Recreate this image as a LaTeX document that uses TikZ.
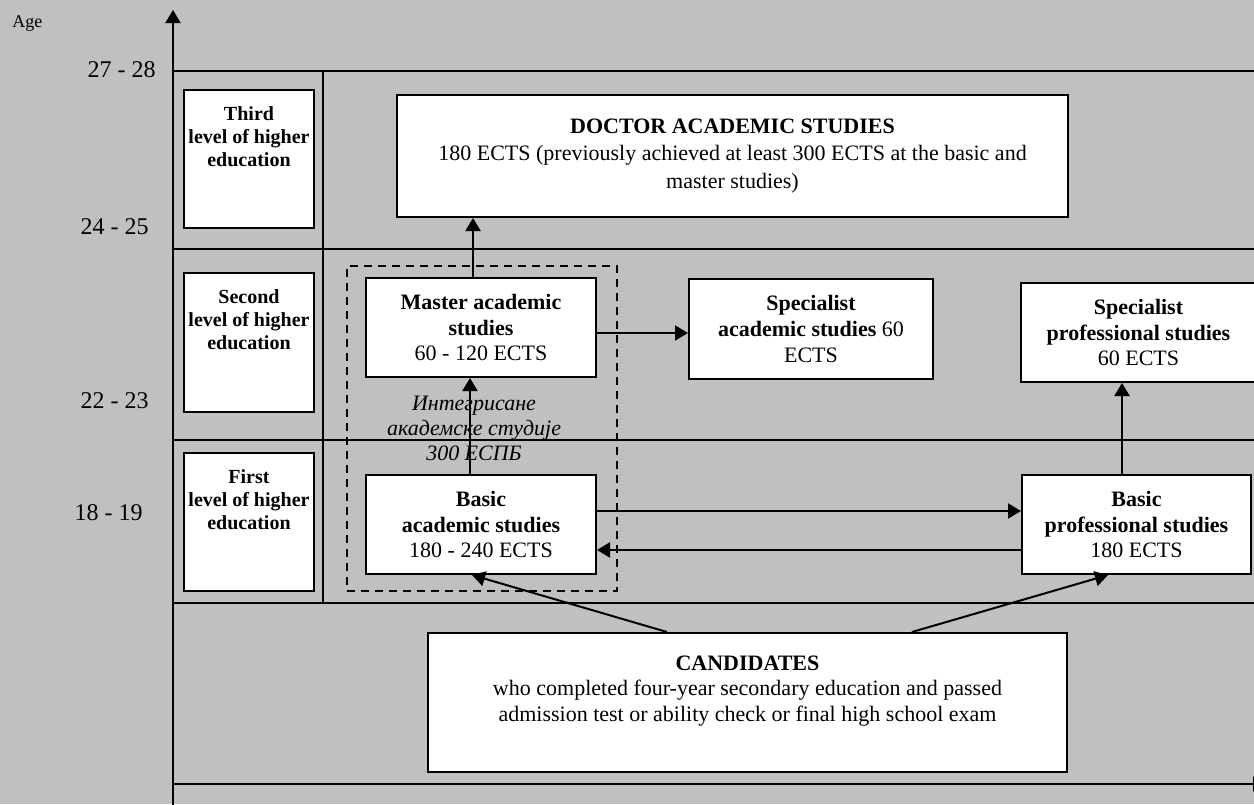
\documentclass[tikz,border=0pt]{standalone}
\usepackage{fontspec}
\setmainfont{Liberation Serif}
\usetikzlibrary{arrows.meta}
\definecolor{bggray}{RGB}{192,192,192}
\begin{document}
\begin{tikzpicture}[x=0.5pt,y=-0.5pt,
  box/.style={draw, line width=1pt, fill=white, inner sep=0pt, anchor=center,
    font=\fontsize{11}{12.8}\selectfont, align=center},
  lvltext/.style={font=\fontsize{10}{11.5}\selectfont\bfseries, align=center, inner sep=0pt, anchor=north},
  agel/.style={font=\fontsize{12}{14}\selectfont, anchor=east, inner sep=0pt},
  arr/.style={line width=1pt, -{Triangle[length=6.5pt,width=7.5pt]}},
  gridline/.style={line width=1pt},
  dashbox/.style={draw, line width=1pt, dash pattern=on 4pt off 3pt, inner sep=0pt}]
\useasboundingbox (0,0) rectangle (1254,804);
\clip (0,0) rectangle (1254,804);
\fill[bggray] (0,0) rectangle (1254,804);

% axes
\coordinate (ybot) at (173,810);
\coordinate (ytop) at (173,10);
\coordinate (xleft) at (173,784);
\coordinate (xright) at (1266,784);
\draw[arr] (ybot) -- (ytop);
\draw[arr] (xleft) -- (xright);

% grid lines
\draw[gridline] (173,71) -- (1254,71);
\draw[gridline] (173,249) -- (1254,249);
\draw[gridline] (173,440) -- (1254,440);
\draw[gridline] (173,603) -- (1254,603);
\draw[gridline] (323,71) -- (323,603);

% age labels
\node[font=\fontsize{9}{10}\selectfont, anchor=west, inner sep=0pt] (agelabel) at (12,23) {Age};
\node[agel] (a2728) at (156,70) {27 - 28};
\node[agel] (a2425) at (149,227) {24 - 25};
\node[agel] (a2223) at (149,401) {22 - 23};
\node[agel] (a1819) at (143,513) {18 - 19};

% level boxes
\node[box, minimum width=65pt, minimum height=69pt] (lvl3) at (249,159) {};
\node[lvltext] (lvl3t) at (249,106) {Third\\level of higher\\education};
\node[box, minimum width=65pt, minimum height=69.5pt] (lvl2) at (249,342.5) {};
\node[lvltext] (lvl2t) at (249,289) {Second\\level of higher\\education};
\node[box, minimum width=65pt, minimum height=69pt] (lvl1) at (249,522) {};
\node[lvltext] (lvl1t) at (249,469) {First\\level of higher\\education};

% dashed integrated box
\node[dashbox, minimum width=135pt, minimum height=162.5pt] (intbox) at (482,428.5) {};

% study boxes
\node[box, minimum width=335.5pt, minimum height=61pt] (doc) at (732.5,156)
  {\textbf{DOCTOR ACADEMIC STUDIES}\\[1pt]180 ECTS (previously achieved at least 300 ECTS at the basic and\\[1pt]master studies)};
\node[box, minimum width=115pt, minimum height=49.5pt] (master) at (481,327.5)
  {\textbf{Master academic}\\\textbf{studies}\\60 - 120 ECTS};
\node[box, minimum width=115pt, minimum height=49.5pt] (basicA) at (481,524.5)
  {\textbf{Basic}\\\textbf{academic studies}\\180 - 240 ECTS};
\node[box, minimum width=122pt, minimum height=50pt] (specA) at (811,329)
  {\textbf{Specialist}\\\textbf{academic studies} 60\\ECTS};
\node[box, minimum width=117.5pt, minimum height=49.5pt] (specP) at (1138.5,332.5)
  {\textbf{Specialist}\\\textbf{professional studies}\\60 ECTS};
\node[box, minimum width=114.5pt, minimum height=49.5pt] (basicP) at (1136.5,524.5)
  {\textbf{Basic}\\\textbf{professional studies}\\180 ECTS};
\node[box, minimum width=319.5pt, minimum height=69.5pt] (cand) at (747.5,702.5) {};
\node[font=\fontsize{11}{12.8}\selectfont, align=center, inner sep=0pt] (candt) at (747.5,691)
  {\textbf{CANDIDATES}\\who completed four-year secondary education and passed\\admission test or ability check or final high school exam};

% connectors
\draw[arr] ([xshift=-4pt]master.north) -- ([xshift=-4pt]master.north |- doc.south);
\draw[arr] ([xshift=-5.5pt]basicA.north) -- ([xshift=-5.5pt]basicA.north |- master.south);
\draw[arr] ([yshift=-2.75pt]master.east) -- ([yshift=-2.75pt]master.east -| specA.west);
\draw[arr] ([yshift=6.75pt]basicA.east) -- ([yshift=6.75pt]basicA.east -| basicP.west);
\draw[arr] ([yshift=-12.75pt]basicP.west) -- ([yshift=-12.75pt]basicP.west -| basicA.east);
\draw[arr] ([xshift=-7.25pt]basicP.north) -- ([xshift=-7.25pt]basicP.north |- specP.south);
\draw[arr] ([xshift=-40.25pt]cand.north) -- ([xshift=-4.5pt]basicA.south);
\draw[arr] ([xshift=82.25pt]cand.north) -- ([xshift=-14.25pt]basicP.south);

% integrated studies label
\node[font=\fontsize{11}{12.5}\selectfont\itshape, align=center, inner sep=0pt] (integ) at (474,428)
  {Интегрисане\\академске студије\\300 ЕСПБ};
\end{tikzpicture}
\end{document}
